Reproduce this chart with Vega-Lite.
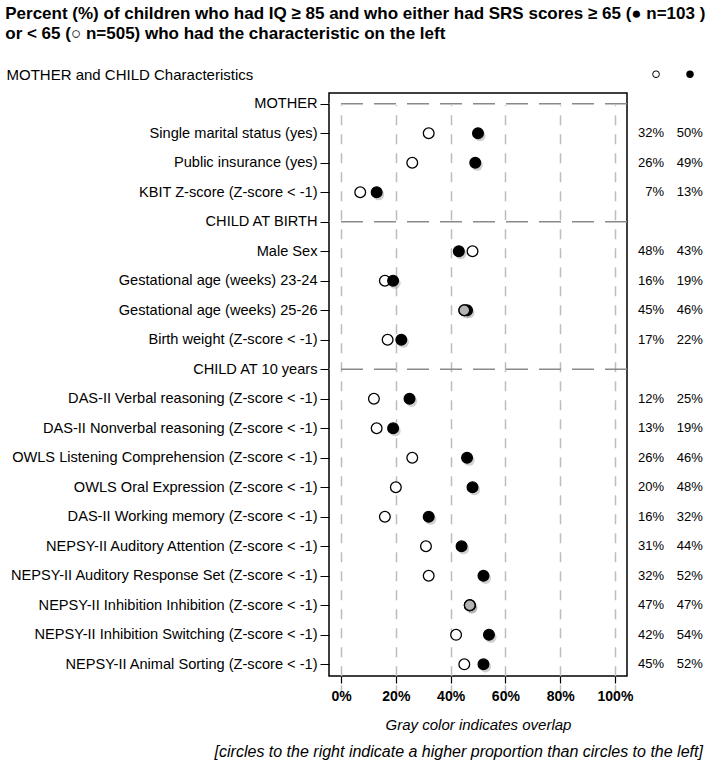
{
  "$schema": "https://vega.github.io/schema/vega-lite/v6.json",
  "padding": {"left": 5, "top": 5, "right": 5, "bottom": 5},
  "background": "white",
  "title": {
    "text": ["Percent (%) of children who had IQ ≥ 85  and who either had SRS scores  ≥ 65 (● n=103 )", "or < 65 (○ n=505) who had the characteristic on the left"],
    "anchor": "start", "frame": "bounds", "font": "Liberation Sans", "fontSize": 17, "fontWeight": "bold",
    "lineHeight": 20, "offset": 23, "color": "black"
  },
  "config": {
    "font": "Liberation Sans",
    "view": {"stroke": "black", "strokeWidth": 1.5}
  },
  "datasets": {
    "pts": [
      {"item": "Single marital status (yes)", "group": "open", "pct": 0.32},
      {"item": "Single marital status (yes)", "group": "filled", "pct": 0.50},
      {"item": "Public insurance  (yes)", "group": "open", "pct": 0.26},
      {"item": "Public insurance  (yes)", "group": "filled", "pct": 0.49},
      {"item": "KBIT Z-score (Z-score < -1)", "group": "open", "pct": 0.07},
      {"item": "KBIT Z-score (Z-score < -1)", "group": "filled", "pct": 0.13},
      {"item": "Male Sex", "group": "open", "pct": 0.48},
      {"item": "Male Sex", "group": "filled", "pct": 0.43},
      {"item": "Gestational age (weeks) 23-24", "group": "open", "pct": 0.16},
      {"item": "Gestational age (weeks) 23-24", "group": "filled", "pct": 0.19},
      {"item": "Gestational age (weeks) 25-26", "group": "open", "pct": 0.45},
      {"item": "Gestational age (weeks) 25-26", "group": "filled", "pct": 0.46},
      {"item": "Birth weight (Z-score < -1)", "group": "open", "pct": 0.17},
      {"item": "Birth weight (Z-score < -1)", "group": "filled", "pct": 0.22},
      {"item": "DAS-II Verbal reasoning (Z-score < -1)", "group": "open", "pct": 0.12},
      {"item": "DAS-II Verbal reasoning (Z-score < -1)", "group": "filled", "pct": 0.25},
      {"item": "DAS-II Nonverbal reasoning (Z-score < -1)", "group": "open", "pct": 0.13},
      {"item": "DAS-II Nonverbal reasoning (Z-score < -1)", "group": "filled", "pct": 0.19},
      {"item": "OWLS Listening Comprehension (Z-score < -1)", "group": "open", "pct": 0.26},
      {"item": "OWLS Listening Comprehension (Z-score < -1)", "group": "filled", "pct": 0.46},
      {"item": "OWLS Oral Expression (Z-score < -1)", "group": "open", "pct": 0.20},
      {"item": "OWLS Oral Expression (Z-score < -1)", "group": "filled", "pct": 0.48},
      {"item": "DAS-II Working memory (Z-score < -1)", "group": "open", "pct": 0.16},
      {"item": "DAS-II Working memory (Z-score < -1)", "group": "filled", "pct": 0.32},
      {"item": "NEPSY-II Auditory Attention (Z-score < -1)", "group": "open", "pct": 0.31},
      {"item": "NEPSY-II Auditory Attention (Z-score < -1)", "group": "filled", "pct": 0.44},
      {"item": "NEPSY-II Auditory Response Set (Z-score < -1)", "group": "open", "pct": 0.32},
      {"item": "NEPSY-II Auditory Response Set (Z-score < -1)", "group": "filled", "pct": 0.52},
      {"item": "NEPSY-II Inhibition Inhibition (Z-score < -1)", "group": "open", "pct": 0.47},
      {"item": "NEPSY-II Inhibition Inhibition (Z-score < -1)", "group": "filled", "pct": 0.47},
      {"item": "NEPSY-II Inhibition Switching (Z-score < -1)", "group": "open", "pct": 0.42},
      {"item": "NEPSY-II Inhibition Switching (Z-score < -1)", "group": "filled", "pct": 0.54},
      {"item": "NEPSY-II Animal Sorting (Z-score < -1)", "group": "open", "pct": 0.45},
      {"item": "NEPSY-II Animal Sorting (Z-score < -1)", "group": "filled", "pct": 0.52},
      {"item": "Gestational age (weeks) 25-26", "group": "overlap", "pct": 0.45},
      {"item": "NEPSY-II Inhibition Inhibition (Z-score < -1)", "group": "overlap", "pct": 0.47}
    ],
    "sections": [
      {"item": "MOTHER"},
      {"item": "CHILD AT BIRTH"},
      {"item": "CHILD AT 10 years"}
    ],
    "header": [
      {"item": "header", "group": "open"},
      {"item": "header", "group": "filled"}
    ]
  },
  "vconcat": [
    {
      "width": 298,
      "height": 583,
      "title": {
        "text": "[circles to the right indicate a higher proportion than circles to the left]",
        "orient": "bottom", "anchor": "end", "frame": "bounds",
        "fontStyle": "italic", "fontWeight": "normal", "fontSize": 16, "offset": 12, "color": "black"
      },
      "encoding": {
        "y": {
          "field": "item", "type": "nominal",
          "scale": {
            "type": "point", "padding": 0, "range": [-18.8, 571.3],
            "domain": ["header", "MOTHER", "Single marital status (yes)", "Public insurance  (yes)", "KBIT Z-score (Z-score < -1)", "CHILD AT BIRTH", "Male Sex", "Gestational age (weeks) 23-24", "Gestational age (weeks) 25-26", "Birth weight (Z-score < -1)", "CHILD AT 10 years", "DAS-II Verbal reasoning (Z-score < -1)", "DAS-II Nonverbal reasoning (Z-score < -1)", "OWLS Listening Comprehension (Z-score < -1)", "OWLS Oral Expression (Z-score < -1)", "DAS-II Working memory (Z-score < -1)", "NEPSY-II Auditory Attention (Z-score < -1)", "NEPSY-II Auditory Response Set (Z-score < -1)", "NEPSY-II Inhibition Inhibition (Z-score < -1)", "NEPSY-II Inhibition Switching (Z-score < -1)", "NEPSY-II Animal Sorting (Z-score < -1)"]
          },
          "axis": {
            "values": ["MOTHER", "Single marital status (yes)", "Public insurance  (yes)", "KBIT Z-score (Z-score < -1)", "CHILD AT BIRTH", "Male Sex", "Gestational age (weeks) 23-24", "Gestational age (weeks) 25-26", "Birth weight (Z-score < -1)", "CHILD AT 10 years", "DAS-II Verbal reasoning (Z-score < -1)", "DAS-II Nonverbal reasoning (Z-score < -1)", "OWLS Listening Comprehension (Z-score < -1)", "OWLS Oral Expression (Z-score < -1)", "DAS-II Working memory (Z-score < -1)", "NEPSY-II Auditory Attention (Z-score < -1)", "NEPSY-II Auditory Response Set (Z-score < -1)", "NEPSY-II Inhibition Inhibition (Z-score < -1)", "NEPSY-II Inhibition Switching (Z-score < -1)", "NEPSY-II Animal Sorting (Z-score < -1)"],
            "domain": false, "grid": false,
            "tickSize": 9, "tickColor": "black", "tickWidth": 1,
            "labelFontSize": 14.6, "labelColor": "black", "labelPadding": 3, "labelLimit": 400,
            "title": "MOTHER and CHILD Characteristics",
            "titleAngle": 0, "titleAlign": "left", "titleBaseline": "middle",
            "titleX": -323, "titleY": -18.8,
            "titleFontSize": 15, "titleFontWeight": "normal", "titleColor": "black"
          }
        }
      },
      "layer": [
        {
          "data": {"name": "sections"},
          "mark": {"type": "rule", "color": "#8a8a8a", "strokeWidth": 1.5, "strokeDash": [22, 11]},
          "encoding": {}
        },
        {
          "data": {"name": "pts"},
          "transform": [{"filter": "datum.group != 'open'"}],
          "mark": {"type": "point", "shape": "circle", "filled": true, "color": "#7a7a7a", "opacity": 0.35, "size": 125, "xOffset": 2, "yOffset": 2.5, "strokeWidth": 0},
          "encoding": {
            "x": {
              "field": "pct", "type": "quantitative",
              "scale": {"domain": [-0.044, 1.044], "nice": false, "zero": false},
              "axis": {
                "values": [0, 0.2, 0.4, 0.6, 0.8, 1],
                "format": ".0%",
                "domain": false,
                "grid": true, "gridColor": "#bdbdbd", "gridDash": [10, 9], "gridWidth": 1.5,
                "tickSize": 7, "tickColor": "black", "tickWidth": 1.2,
                "labelFontSize": 14, "labelFontWeight": "bold", "labelColor": "black", "labelPadding": 6,
                "title": "Gray color indicates overlap",
                "titleFontSize": 15, "titleFontStyle": "italic", "titleFontWeight": "normal", "titleColor": "black", "titlePadding": 14
              }
            }
          }
        },
        {
          "data": {"name": "pts"},
          "mark": {"type": "point", "shape": "circle", "size": 115, "stroke": "black", "strokeWidth": 1.3, "opacity": 1},
          "encoding": {
            "x": {"field": "pct", "type": "quantitative"},
            "fill": {
              "field": "group", "type": "nominal",
              "scale": {"domain": ["open", "filled", "overlap"], "range": ["white", "black", "#b3b3b3"]},
              "legend": null
            }
          }
        },
        {
          "data": {"name": "pts"},
          "transform": [{"filter": "datum.group == 'open'"}],
          "mark": {"type": "text", "align": "right", "baseline": "middle", "fontSize": 13, "color": "black"},
          "encoding": {
            "x": {"datum": 1.179},
            "text": {"field": "pct", "type": "quantitative", "format": ".0%"}
          }
        },
        {
          "data": {"name": "pts"},
          "transform": [{"filter": "datum.group == 'filled'"}],
          "mark": {"type": "text", "align": "right", "baseline": "middle", "fontSize": 13, "color": "black"},
          "encoding": {
            "x": {"datum": 1.321},
            "text": {"field": "pct", "type": "quantitative", "format": ".0%"}
          }
        },
        {
          "data": {"name": "header"},
          "transform": [{"filter": "datum.group == 'open'"}],
          "mark": {"type": "point", "shape": "circle", "size": 45, "fill": "white", "stroke": "black", "strokeWidth": 1, "opacity": 1},
          "encoding": {"x": {"datum": 1.15}}
        },
        {
          "data": {"name": "header"},
          "transform": [{"filter": "datum.group == 'filled'"}],
          "mark": {"type": "point", "shape": "circle", "size": 55, "filled": true, "color": "black", "opacity": 1},
          "encoding": {"x": {"datum": 1.274}}
        }
      ]
    }
  ]
}
